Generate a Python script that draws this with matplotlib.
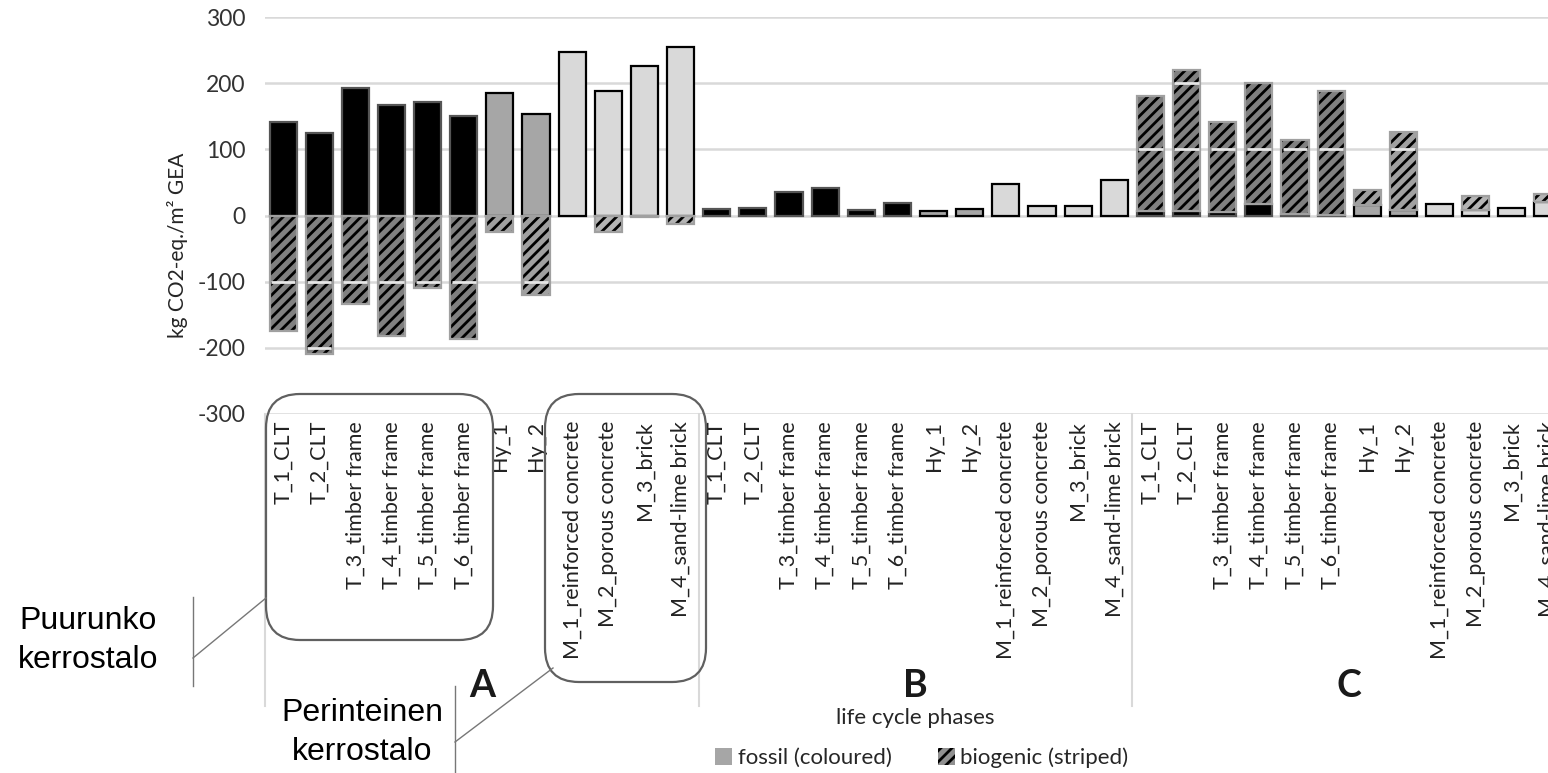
import numpy as np
import matplotlib
matplotlib.use("Agg")
import matplotlib.pyplot as plt
from matplotlib.patches import FancyBboxPatch, Patch
from matplotlib.lines import Line2D
from matplotlib.transforms import blended_transform_factory

# categories (same order in every phase)
labels = ["T_1_CLT", "T_2_CLT", "T_3_timber frame", "T_4_timber frame",
          "T_5_timber frame", "T_6_timber frame", "Hy_1", "Hy_2",
          "M_1_reinforced concrete", "M_2_porous concrete", "M_3_brick",
          "M_4_sand-lime brick"]
kinds = ["T"] * 6 + ["Hy"] * 2 + ["M"] * 4
phases = ["A", "B", "C"]

# phase A: fossil positive, biogenic negative
fossil_A = [141, 125, 192, 167, 171, 150, 185, 154, 247, 188, 226, 255]
bio_A = [-174, -209, -134, -182, -109, -186, -25, -120, 0, -25, -2, -13]
# phase B: fossil only
fossil_B = [10, 12, 36, 41, 9, 19, 7, 10, 47, 15, 15, 54]
bio_B = [0] * 12
# phase C: fossil at bottom, biogenic stacked on top
fossil_C = [7, 7, 6, 18, 3, 1, 16, 9, 17, 9, 11, 20]
total_C = [180, 220, 141, 200, 114, 188, 38, 126, 17, 30, 11, 33]
bio_C = [t - f for t, f in zip(total_C, fossil_C)]

W, H = 1548, 773
plt.rcParams['font.family'] = ['Lato', 'DejaVu Sans']
plt.rcParams['hatch.linewidth'] = 2.0

fossil_col = {"T": "#000000", "Hy": "#a6a6a6", "M": "#d9d9d9"}
bio_face = {"T": "#808080", "Hy": "#a0a0a0", "M": "#b4b4b4"}
grid_vals = [-300, -200, -100, 0, 100, 200, 300]

fig = plt.figure(figsize=(W / 100, H / 100), dpi=100)
ax = fig.add_axes([265 / W, 1 - 414 / H, 1301 / W, 397 / H])

bw = 0.75
fossil_all = fossil_A + fossil_B + fossil_C
bio_all = bio_A + bio_B + bio_C
x = np.arange(len(fossil_all))
kind_all = kinds * 3

for i in x:
    k = kind_all[i]
    f = fossil_all[i]
    b = bio_all[i]
    ax.bar(i, f, width=bw, color=fossil_col[k], edgecolor="black" if k != "T" else "#555555",
           linewidth=1.6, zorder=3)
    if b == 0:
        continue
    if b < 0:
        bot, h = 0, b
    else:
        bot, h = f, b
    ax.bar(i, h, bottom=bot, width=bw, color=bio_face[k], edgecolor="black",
           linewidth=0, hatch="///", zorder=3)
    ax.bar(i, h, bottom=bot, width=bw, color="none", edgecolor="#a0a0a0",
           linewidth=1.6, zorder=4)
    lo, hi = sorted([bot, bot + h])
    for g in grid_vals:
        if lo < g < hi and g != 0:
            ax.hlines(g, i - bw / 2 + 0.04, i + bw / 2 - 0.04, color="#e6e6e6",
                      linewidth=2, zorder=5)

ax.set_ylim(-300, 300)
ax.set_xlim(-0.5, len(x) - 0.5)
ax.set_yticks(grid_vals)
ax.set_yticklabels([str(v) for v in grid_vals])
ax.set_xticks(x)
ax.set_xticklabels(labels * 3, rotation=90, va="top", ha="center")
ax.tick_params(axis="y", length=0, pad=14, labelsize=16.5, labelcolor="#333333")
ax.tick_params(axis="x", length=0, pad=5, labelsize=15.5, labelcolor="#222222")
for s in ax.spines.values():
    s.set_visible(False)
ax.grid(axis="y", color="#d9d9d9", linewidth=1.8, zorder=0)
ax.set_axisbelow(True)

# group separators and phase letters
trans = blended_transform_factory(ax.transData, fig.transFigure)
for g in range(4):
    xs = g * 12 - 0.5
    ax.add_line(Line2D([xs, xs], [1 - 414 / H, 1 - 706 / H], transform=trans,
                       color="#d9d9d9", linewidth=1.5, clip_on=False))
for g, p in enumerate(phases):
    ax.text(g * 12 + 5.5, 1 - 686 / H, p, transform=trans, ha="center", va="center",
            fontsize=27, fontweight="bold", color="#1a1a1a")

fig.text(915 / W, 1 - 718 / H, "life cycle phases", ha="center", va="center",
         fontsize=16, color="#262626")
fig.text(178 / W, 1 - 245 / H, "kg CO2-eq./m² GEA", rotation=90, ha="center",
         va="center", fontsize=15, color="#262626")

handles = [Patch(facecolor="#a6a6a6", edgecolor="none", label="fossil (coloured)"),
           Patch(facecolor="#909090", edgecolor="black", linewidth=0, hatch="///",
                 label="biogenic (striped)")]
fig.legend(handles=handles, loc="center", bbox_to_anchor=(922 / W, 1 - 758 / H),
           ncol=2, frameon=False, fontsize=16, handlelength=0.75, handleheight=0.75,
           handletextpad=0.25, columnspacing=2.1, labelcolor="#262626")

# annotations in pixel coordinates
ov = fig.add_axes([0, 0, 1, 1], zorder=10)
ov.set_xlim(0, W)
ov.set_ylim(H, 0)
ov.axis("off")
ov.patch.set_alpha(0)

for (x0, y0, x1, y1) in [(266, 394, 493, 640), (545, 394, 706, 682)]:
    ov.add_patch(FancyBboxPatch((x0, y0), x1 - x0, y1 - y0,
                                boxstyle="round,pad=0,rounding_size=34",
                                facecolor="none", edgecolor="#606060", linewidth=1.6))

ov.text(88, 621, "Puurunko", ha="center", va="center", fontsize=23,
        family="Liberation Sans", color="black")
ov.text(88, 660, "kerrostalo", ha="center", va="center", fontsize=23,
        family="Liberation Sans", color="black")
ov.plot([193, 193], [597, 686], color="#777777", linewidth=1)
ov.plot([193, 266], [658, 598], color="#777777", linewidth=1)

ov.text(362, 713, "Perinteinen", ha="center", va="center", fontsize=23,
        family="Liberation Sans", color="black")
ov.text(362, 752, "kerrostalo", ha="center", va="center", fontsize=23,
        family="Liberation Sans", color="black")
ov.plot([455, 455], [686, 773], color="#777777", linewidth=1)
ov.plot([455, 553], [742, 668], color="#777777", linewidth=1)

fig.savefig("out.png", dpi=100)
